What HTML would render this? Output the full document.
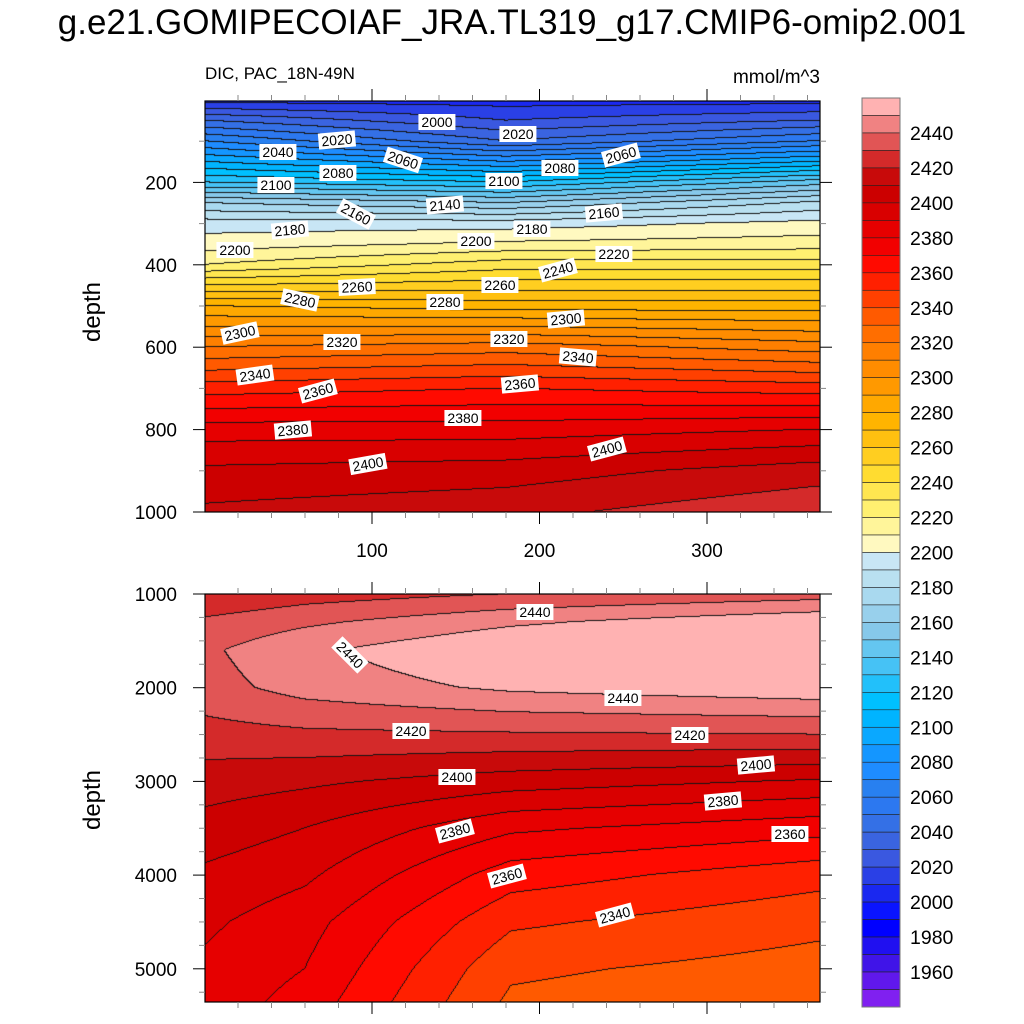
<!DOCTYPE html>
<html><head><meta charset="utf-8">
<style>
body{margin:0;background:#fff;width:1024px;height:1024px;overflow:hidden;position:relative;font-family:"Liberation Sans",sans-serif;}
.t{position:absolute;white-space:nowrap;color:#000;}
.lab{position:absolute;background:#fff;font-size:14px;padding:0 3px;line-height:16px;transform:translate(-50%,-50%);white-space:nowrap;}
canvas{position:absolute;}
</style></head><body>
<div class="t" style="left:0;width:1024px;text-align:center;top:3px;font-size:35px;">g.e21.GOMIPECOIAF_JRA.TL319_g17.CMIP6-omip2.001</div>
<div class="t" style="left:205px;top:64px;font-size:17px;">DIC, PAC_18N-49N</div>
<div class="t" style="right:204px;top:67px;font-size:19px;">mmol/m^3</div>
<div class="t" style="left:93px;top:312px;font-size:24px;transform:translate(-50%,-50%) rotate(-90deg);">depth</div>
<div class="t" style="left:93px;top:800px;font-size:24px;transform:translate(-50%,-50%) rotate(-90deg);">depth</div>
<canvas id="c1" style="left:205px;top:101px" width="615" height="411"></canvas>
<canvas id="c2" style="left:205px;top:594px" width="615" height="408"></canvas>
<svg id="ax" width="1024" height="1024" style="position:absolute;left:0;top:0"></svg>
<div id="labs"></div>
<script>
// colour levels (box 0 = >=2450, box k = [2460-10(k+1), 2460-10k))
const levelColors=["#ffb2b2","#f08282","#e15555","#d42a2a","#c80a0a","#cc0000","#d90000","#e60000","#f20000","#ff0a00","#ff2000","#ff4000","#ff5a00","#ff6e00","#ff7f00","#ff8c00","#ff9900","#ffa800","#ffb400","#ffc010","#ffce20","#ffdc30","#ffe650","#fff070","#fff59a","#fff9c0",
"#c8e6f5","#b9e0f0","#a9d9ef","#98d0ec","#86c8ea","#64c6f0","#46c2f5","#22c0fa","#00c0ff","#00b4ff","#0aa8ff","#1496ff","#1e8cff","#2880f0","#2c78f0","#3470e6","#3a64e0","#3a58e0","#2a40e6","#1a28f0","#0a14ff","#0000ff","#2010f0","#4014e8","#6018ec","#8020f0"];
const cbLabels=[2440,2420,2400,2380,2360,2340,2320,2300,2280,2260,2240,2220,2200,2180,2160,2140,2120,2100,2080,2060,2040,2020,2000,1980,1960];
// top panel data
const topTimes=[0,180,365];
const topDepths=[0,50,100,150,200,250,300,350,400,500,600,700,800,900,1000];
const topVals=[
 [1995,2030,2060,2090,2120,2160,2185,2195,2210,2270,2310,2345,2375,2392,2402],
 [1995,2010,2030,2070,2110,2150,2185,2202,2225,2265,2315,2350,2375,2395,2407],
 [1995,2020,2050,2090,2135,2172,2193,2205,2225,2265,2305,2345,2380,2405,2418]];
// bottom panel data
const botTimes=[0,60,183,365];
const botDepths=[1000,1300,1600,2000,2500,3000,3500,4000,4500,5000,5360];
const botVals=[
 [2410,2422,2428,2426,2416,2405,2396,2388,2382,2378,2376],
 [2415,2428,2438,2434,2418,2402,2390,2382,2374,2370,2366],
 [2420,2438,2450,2442,2419,2395,2372,2355,2342,2332,2328],
 [2425,2448,2457,2447,2420,2389,2364,2344,2333,2326,2322]];
const xTicks=[100,200,300];
const topYTicks=[200,400,600,800,1000];
const botYTicks=[1000,2000,3000,4000,5000];

function xs(t){return 204.5+t*1.675;}
function ysTop(d){return 100+d*0.412;}
function ysBot(d){return 594+(d-1000)*0.0937;}
function interp(arr,v){let i=0;while(i<arr.length-2&&v>arr[i+1])i++;let f=(v-arr[i])/(arr[i+1]-arr[i]);return [i,Math.max(0,Math.min(1,f))];}
function field(times,depths,vals,t,d){
 const [i,fi]=interp(times,t),[j,fj]=interp(depths,d);
 const a=vals[i][j]*(1-fj)+vals[i][j+1]*fj, b=vals[i+1][j]*(1-fj)+vals[i+1][j+1]*fj;
 return a*(1-fi)+b*fi;}
function lvl(v){let k=Math.floor((2460-v)/10)-1;if(v>=2450)k=0;return Math.max(0,Math.min(51,k));}
function hex(h){return [parseInt(h.substr(1,2),16),parseInt(h.substr(3,2),16),parseInt(h.substr(5,2),16)];}
const rgb=levelColors.map(hex);
function draw(id,times,depths,vals,dy){
 const c=document.getElementById(id),ctx=c.getContext('2d'),W=c.width,H=c.height;
 const img=ctx.createImageData(W,H);const L=new Int16Array(W*H);
 for(let y=0;y<H;y++)for(let x=0;x<W;x++){const t=(x+1)/1.675,d=dy(y+0.5);L[y*W+x]=lvl(field(times,depths,vals,t,d));}
 for(let y=0;y<H;y++)for(let x=0;x<W;x++){const k=L[y*W+x];let col=rgb[k];
  if((x<W-1&&L[y*W+x+1]!==k)||(y<H-1&&L[(y+1)*W+x]!==k))col=[20,20,20];
  const p=(y*W+x)*4;img.data[p]=col[0];img.data[p+1]=col[1];img.data[p+2]=col[2];img.data[p+3]=255;}
 ctx.putImageData(img,0,0);}
draw('c1',topTimes,topDepths,topVals,y=>(y+1)/0.412);
draw('c2',botTimes,botDepths,botVals,y=>1000+y/0.0937);

const svg=document.getElementById('ax');const NS='http://www.w3.org/2000/svg';
function el(tag,at){const e=document.createElementNS(NS,tag);for(const k in at)e.setAttribute(k,at[k]);svg.appendChild(e);return e;}
function line(x1,y1,x2,y2,w,c){return el('line',{x1,y1,x2,y2,stroke:c||'#000','stroke-width':w||1});}
function txt(x,y,s,anchor,size){const e=el('text',{x,y,'font-size':size||19,'text-anchor':anchor||'middle','font-family':'Liberation Sans, sans-serif'});e.textContent=s;return e;}
function panel(top,bot,yTicks,ys,minorStep,maxD,minD,showX){
 const r=el('rect',{x:205,y:top,width:615,height:bot-top,fill:'none',stroke:'#000','stroke-width':1.2});
 
 for(let t=20;t<=360;t+=20){const X=xs(t);const maj=t%100===0;
  line(X,bot,X,bot+(maj?12:6),1,maj?'#000':'#888');line(X,top,X,top-(maj?12:6),1,maj?'#000':'#888');}
 for(let d=minD;d<=maxD;d+=minorStep){const Y=ys(d);if(Y<top-0.5||Y>bot+0.5)continue;
  const maj=yTicks.includes(d);line(205,Y,205-(maj?12:6),Y,1,maj?'#000':'#888');line(820,Y,820+(maj?12:6),Y,1,maj?'#000':'#888');}
 yTicks.forEach(d=>{const e=txt(177,ys(d)+7,String(d),'end',19);});
 if(showX)xTicks.forEach(t=>{const e=txt(xs(t),557,String(t),'middle',19);});
}
panel(101,512,topYTicks,ysTop,100,1000,0,true);
panel(594,1002,botYTicks,ysBot,250,5500,1000,false);
// colorbar
levelColors.forEach((c,k)=>{const r=el('rect',{x:862,y:98+k*17.48,width:38,height:17.48,fill:c,stroke:'#222','stroke-width':0.6});
 });
el('rect',{x:862,y:98,width:38,height:909,fill:'none',stroke:'#777','stroke-width':1});
cbLabels.forEach(v=>{const k=(2460-v)/10;const e=txt(910,98+k*17.48+7,String(v),'start',19.5);
 });

// contour labels
const labs=[[2000,437,122,0],[2020,337,140,-5],[2020,518,134,0],[2040,278,152,0],[2060,403,160,18],[2060,621,155,-15],[2080,338,173,0],[2080,560,168,0],[2100,276,185,0],[2100,504,181,0],[2160,356,214,28],[2160,604,213,-5],[2140,445,205,-5],[2180,290,230,-5],[2180,532,229,0],[2200,235,250,0],[2200,476,241,0],[2220,614,254,0],[2240,558,270,-15],[2260,357,287,-3],[2260,500,285,0],[2280,300,300,12],[2280,445,302,0],[2300,240,333,-12],[2300,566,319,-5],[2320,342,342,0],[2320,509,339,0],[2340,255,375,-8],[2340,578,357,5],[2360,318,391,-15],[2360,520,384,-5],[2380,293,430,-5],[2380,463,418,0],[2400,368,464,-10],[2400,607,449,-15],
[2440,535,612,0],[2440,350,655,45],[2440,623,698,0],[2420,411,731,0],[2420,690,735,0],[2400,457,777,0],[2400,756,765,-5],[2380,723,801,-5],[2380,455,831,-15],[2360,790,834,0],[2360,507,876,-15],[2340,615,915,-15]];
const box=document.getElementById('labs');
labs.forEach(l=>{const d=document.createElement('div');d.className='lab';d.textContent=l[0];
 
 
 d.style.left=l[1]+'px';d.style.top=l[2]+'px';d.style.transform='translate(-50%,-50%) rotate('+l[3]+'deg)';box.appendChild(d);});
</script>
</body></html>
